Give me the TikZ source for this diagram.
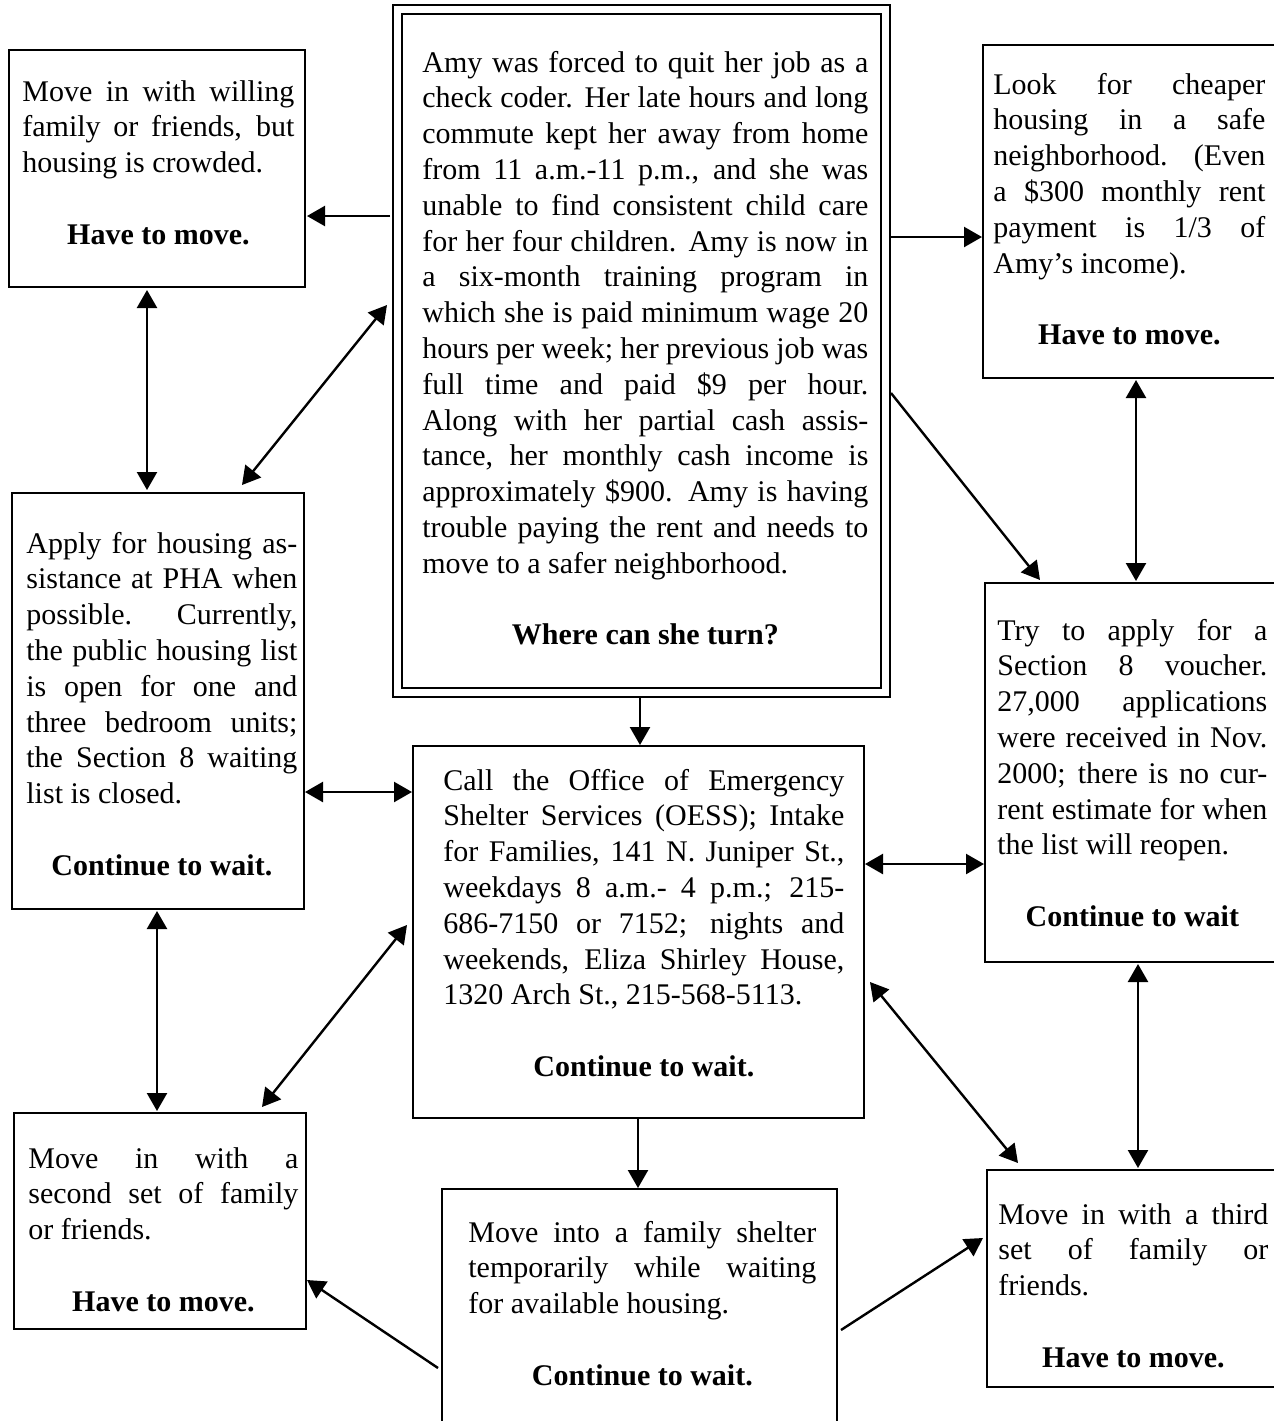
\documentclass[tikz,border=0pt]{standalone}
\usepackage{fontspec}
\setmainfont{Liberation Serif}
\usetikzlibrary{arrows.meta,calc,fit}
\newcommand{\outcome}[1]{\par\vskip\baselineskip{\centering\bfseries #1\par}}
\begin{document}
\begin{tikzpicture}[x=0.5pt, y=-0.5pt,
  >={Triangle[length=9pt,width=10pt]},
  link/.style={line width=1.2pt},
  box/.style={draw, line width=1pt, inner sep=0pt, outer sep=0pt},
  txt/.style={anchor=base west, inner sep=0pt, align=justify, font=\fontsize{15}{17.9}\selectfont}]
\useasboundingbox (0,0) rectangle (1274,1421);
\clip (0,0) rectangle (1274,1421);
\node [box, fit={(9,50) (305,287)}] (move1) {};
\node [box, fit={(393,5) (890,697)}] (amy) {};
\node [box, fit={(402,14) (881,688)}] (amyin) {};
\node [box, fit={(983,45) (1290,378)}] (cheap) {};
\node [box, fit={(12,493) (304,909)}] (apply) {};
\node [box, fit={(413,746) (864,1118)}] (oess) {};
\node [box, fit={(985,583) (1290,962)}] (voucher) {};
\node [box, fit={(14,1113) (306,1329)}] (move2) {};
\node [box, fit={(442,1189) (837,1440)}] (shelter) {};
\node [box, fit={(987,1170) (1290,1387)}] (move3) {};
\node [txt, text width=136pt] (move1txt) at (22,101) {Move in with willing\linebreak family or friends, but\linebreak housing is crowded.\outcome{Have to move.}};
\node [txt, text width=223pt] (amytxt) at (422,72) {Amy was forced to quit her job as a\linebreak check coder.  Her late hours and long\linebreak commute kept her away from home\linebreak from 11 a.m.-11 p.m., and she was\linebreak unable to find consistent child care\linebreak for her four children. Amy is now in\linebreak a six-month training program in\linebreak which she is paid minimum wage 20\linebreak hours per week; her previous job was\linebreak full time and paid \$9 per hour.\linebreak Along with her partial cash assis-\linebreak tance, her monthly cash income is\linebreak approximately \$900.  Amy is having\linebreak trouble paying the rent and needs to\linebreak move to a safer neighborhood.\outcome{Where can she turn?}};
\node [txt, text width=136pt] (cheaptxt) at (993,94) {Look for cheaper\linebreak housing in a safe\linebreak neighborhood. (Even\linebreak a \$300 monthly rent\linebreak payment is 1/3 of\linebreak Amy's income).\outcome{Have to move.}};
\node [txt, text width=135.5pt] (applytxt) at (26,553) {Apply for housing as-\linebreak sistance at PHA when\linebreak possible.  Currently,\linebreak the public housing list\linebreak is open for one and\linebreak three bedroom units;\linebreak the Section 8 waiting\linebreak list is closed.\outcome{Continue to wait.}};
\node [txt, text width=200.5pt] (oesstxt) at (443,790) {Call the Office of Emergency\linebreak Shelter Services (OESS); Intake\linebreak for Families, 141 N. Juniper St.,\linebreak weekdays 8 a.m.- 4 p.m.; 215-\linebreak 686-7150 or 7152; nights and\linebreak weekends, Eliza Shirley House,\linebreak 1320 Arch St., 215-568-5113.\outcome{Continue to wait.}};
\node [txt, text width=135pt] (vouchertxt) at (997,640) {Try to apply for a\linebreak Section 8 voucher.\linebreak 27,000 applications\linebreak were received in Nov.\linebreak 2000; there is no cur-\linebreak rent estimate for when\linebreak the list will reopen.\outcome{Continue to wait}};
\node [txt, text width=135pt] (move2txt) at (28,1168) {Move in with a\linebreak second set of family\linebreak or friends.\outcome{Have to move.}};
\node [txt, text width=174pt] (sheltertxt) at (468,1242) {Move into a family shelter\linebreak temporarily while waiting\linebreak for available housing.\outcome{Continue to wait.}};
\node [txt, text width=135pt] (move3txt) at (998,1224) {Move in with a third\linebreak set of family or\linebreak friends.\outcome{Have to move.}};
\draw [link, ->] ($(amy.north west)+(-3,211)$) -- ($(move1.north east)+(2,166)$);
\draw [link, ->] ($(amy.north east)+(1,232)$) -- ($(cheap.north west)+(-1,192)$);
\draw [link, <->] ($(move1.south west)+(138,3)$) -- ($(apply.north west)+(135,-3)$);
\draw [link, <->] ($(apply.north west)+(230,-8)$) -- ($(amy.north west)+(-6,300)$);
\draw [link, ->] ($(amy.north east)+(1,388)$) -- ($(voucher.north west)+(55,-3)$);
\draw [link, <->] ($(cheap.south west)+(153,2)$) -- ($(voucher.north west)+(151,-2)$);
\draw [link, ->] ($(amy.south west)+(247,0)$) -- ($(oess.north west)+(227,-1)$);
\draw [link, <->] ($(apply.north east)+(1,299)$) -- ($(oess.north west)+(-1,46)$);
\draw [link, <->] ($(oess.north east)+(1,118)$) -- ($(voucher.north west)+(-1,281)$);
\draw [link, <->] ($(apply.south west)+(145,2)$) -- ($(move2.north west)+(143,-2)$);
\draw [link, <->] ($(move2.north west)+(248,-6)$) -- ($(oess.north west)+(-6,179)$);
\draw [link, <->] ($(oess.north east)+(6,236)$) -- ($(move3.north west)+(31,-7)$);
\draw [link, <->] ($(voucher.south west)+(153,2)$) -- ($(move3.north west)+(151,-2)$);
\draw [link, ->] ($(oess.south west)+(225,0)$) -- ($(shelter.north west)+(196,-1)$);
\draw [link, ->] ($(shelter.north west)+(-4,179)$) -- ($(move2.north east)+(1,167)$);
\draw [link, ->] ($(shelter.north east)+(4,141)$) -- ($(move3.north west)+(-4,68)$);
\end{tikzpicture}
\end{document}
